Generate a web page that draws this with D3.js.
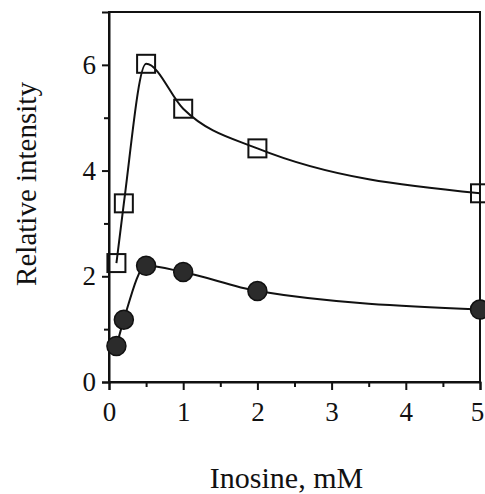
<!DOCTYPE html>
<html>
<head>
<meta charset="utf-8">
<script src="https://cdn.jsdelivr.net/npm/d3@7"></script>
<style>
  body { margin: 0; background: #fff; }
  svg { display: block; }
  text { font-family: "Liberation Serif", "Times New Roman", serif; fill: #111; }
</style>
</head>
<body>
<svg id="chart" width="485" height="494"></svg>
<script>
// data
const inosine = [0.1, 0.2, 0.5, 1, 2, 5];
const openSquares = [2.25, 3.38, 6.02, 5.17, 4.42, 3.57];
const filledCircles = [0.68, 1.18, 2.2, 2.08, 1.72, 1.37];
const xTicks = [0, 1, 2, 3, 4, 5];
const xMinor = [0.5, 1.5, 2.5, 3.5, 4.5];
const yTicks = [0, 2, 4, 6];
const yMinor = [1, 3, 5];

const svg = d3.select("#chart");
const margin = {top: 12, right: 5, bottom: 112, left: 109};
const width = 485 - margin.left - margin.right;
const height = 494 - margin.top - margin.bottom;

const x = d3.scaleLinear().domain([0, 5]).range([0, width]);
const y = d3.scaleLinear().domain([0, 7]).range([height, 0]);

const g = svg.append("g")
    .attr("transform", `translate(${margin.left},${margin.top})`);

// frame
g.append("rect")
    .attr("width", width).attr("height", height)
    .attr("fill", "none").attr("stroke", "#111").attr("stroke-width", 2);

// x axis
const xAxisG = g.append("g")
    .attr("transform", `translate(0,${height})`)
    .call(d3.axisBottom(x).tickValues(xTicks).tickFormat(d3.format("d"))
        .tickSize(8).tickPadding(12));
g.append("g")
    .attr("transform", `translate(0,${height})`)
    .call(d3.axisBottom(x).tickValues(xMinor).tickSize(5).tickFormat(""))
    .select(".domain").remove();

// last label sits on the window edge, nudge it in a bit
xAxisG.selectAll(".tick text").filter(d => d === 5).attr("dx", -3);

// y axis
g.append("g")
    .call(d3.axisLeft(y).tickValues(yTicks).tickFormat(d3.format("d"))
        .tickSize(7).tickPadding(6));
g.append("g")
    .call(d3.axisLeft(y).tickValues(yMinor).tickSize(5).tickFormat(""))
    .select(".domain").remove();

g.selectAll(".domain").attr("stroke", "#111").attr("stroke-width", 2);
g.selectAll(".tick line").attr("stroke", "#111").attr("stroke-width", 2);
g.selectAll(".tick text")
    .attr("font-size", "27px")
    .attr("fill", "#111");

// lines
const line = (vals) => d3.line()
    .x((d, i) => x(inosine[i]))
    .y(d => y(d))
    .curve(d3.curveMonotoneX)(vals);

g.append("path")
    .attr("d", line(openSquares))
    .attr("fill", "none").attr("stroke", "#111").attr("stroke-width", 2);

g.append("path")
    .attr("d", line(filledCircles))
    .attr("fill", "none").attr("stroke", "#111").attr("stroke-width", 2);

// markers
const s = 18;
g.selectAll(".sq").data(openSquares).enter().append("rect")
    .attr("class", "sq")
    .attr("x", (d, i) => x(inosine[i]) - s / 2)
    .attr("y", d => y(d) - s / 2)
    .attr("width", s).attr("height", s)
    .attr("fill", "none").attr("stroke", "#111").attr("stroke-width", 2);

g.selectAll(".dot").data(filledCircles).enter().append("circle")
    .attr("class", "dot")
    .attr("cx", (d, i) => x(inosine[i]))
    .attr("cy", d => y(d))
    .attr("r", 9.5)
    .attr("fill", "#2b2b2b").attr("stroke", "#111").attr("stroke-width", 1.5);

// axis titles
svg.append("text")
    .attr("x", margin.left + width / 2 - 8)
    .attr("y", 488)
    .attr("text-anchor", "middle")
    .attr("font-size", "30px")
    .text("Inosine, mM");

svg.append("text")
    .attr("transform", "translate(36,184) rotate(-90)")
    .attr("text-anchor", "middle")
    .attr("font-size", "29px")
    .text("Relative intensity");
</script>
</body>
</html>
